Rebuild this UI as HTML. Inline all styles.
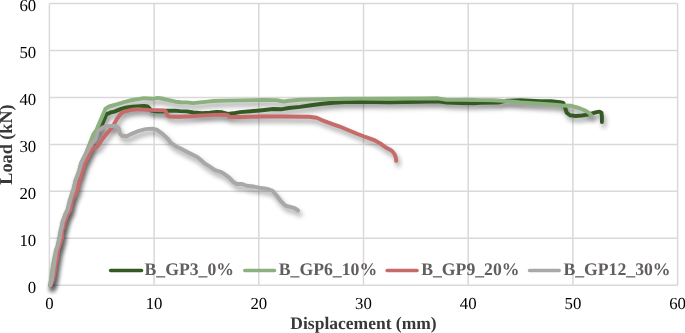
<!DOCTYPE html>
<html><head><meta charset="utf-8"><style>
html,body{margin:0;padding:0;background:#fff;}
svg{display:block;}
text{opacity:0.999;font-family:"Liberation Serif",serif;text-rendering:geometricPrecision;}
.tk{font-size:16.8px;fill:#000;}
.lg{font-size:17.7px;font-weight:bold;fill:#635e5e;}
.at{font-size:17.5px;font-weight:bold;fill:#383838;}
</style></head><body>
<svg width="685" height="333" viewBox="0 0 685 333">
<defs>
<filter id="bl" x="-10%" y="-10%" width="130%" height="140%"><feGaussianBlur stdDeviation="2.5"/></filter>
</defs>
<rect width="685" height="333" fill="#fff"/>
<g stroke="#d9d9d9" stroke-width="1.5" fill="none">
<line x1="49.40" y1="3.5" x2="49.40" y2="285.3"/><line x1="154.10" y1="3.5" x2="154.10" y2="285.3"/><line x1="258.80" y1="3.5" x2="258.80" y2="285.3"/><line x1="363.50" y1="3.5" x2="363.50" y2="285.3"/><line x1="468.20" y1="3.5" x2="468.20" y2="285.3"/><line x1="572.90" y1="3.5" x2="572.90" y2="285.3"/><line x1="677.60" y1="3.5" x2="677.60" y2="285.3"/><line x1="49.4" y1="285.30" x2="677.6" y2="285.30"/><line x1="49.4" y1="238.33" x2="677.6" y2="238.33"/><line x1="49.4" y1="191.37" x2="677.6" y2="191.37"/><line x1="49.4" y1="144.40" x2="677.6" y2="144.40"/><line x1="49.4" y1="97.43" x2="677.6" y2="97.43"/><line x1="49.4" y1="50.47" x2="677.6" y2="50.47"/><line x1="49.4" y1="3.50" x2="677.6" y2="3.50"/>
</g>
<g class="tk"><text x="36.2" y="293.20" text-anchor="end">0</text><text x="36.2" y="246.23" text-anchor="end">10</text><text x="36.2" y="199.27" text-anchor="end">20</text><text x="36.2" y="152.30" text-anchor="end">30</text><text x="36.2" y="105.33" text-anchor="end">40</text><text x="36.2" y="58.37" text-anchor="end">50</text><text x="36.2" y="11.40" text-anchor="end">60</text><text x="49.40" y="309.2" text-anchor="middle">0</text><text x="154.10" y="309.2" text-anchor="middle">10</text><text x="258.80" y="309.2" text-anchor="middle">20</text><text x="363.50" y="309.2" text-anchor="middle">30</text><text x="468.20" y="309.2" text-anchor="middle">40</text><text x="572.90" y="309.2" text-anchor="middle">50</text><text x="677.60" y="309.2" text-anchor="middle">60</text></g>
<g fill="none" stroke="#000" stroke-width="3.9" stroke-linejoin="round" stroke-linecap="round" transform="translate(2.0,4.0)">
<polyline points="50.4,285.3 52.2,280.0 53.2,275.0 53.8,270.0 54.5,265.0 55.3,260.0 56.9,250.0 58.1,247.4 60.4,237.5 61.6,230.0 62.4,227.5 63.2,222.5 64.5,219.0 65.8,215.0 68.4,210.0 70.8,200.0 72.7,194.0 74.2,190.0 76.3,180.0 78.7,174.0 80.0,170.0 82.6,163.0 86.3,155.5 89.9,148.0 93.5,140.0 96.5,134.0 100.0,129.2 103.5,121.0 106.7,113.6 108.6,113.6 110.0,112.7 114.5,111.6 117.5,110.4 121.3,108.9 125.0,107.8 132.5,106.7 140.0,106.2 144.0,105.9 147.6,106.5 149.4,108.1 151.2,110.6 157.5,111.5 163.8,111.5 166.5,110.7 175.0,110.6 180.0,111.1 186.7,111.4 193.3,112.5 202.2,113.3 210.0,112.8 216.7,111.9 222.2,112.3 227.8,113.9 233.3,113.3 240.0,112.1 251.1,111.2 262.2,110.2 273.3,109.0 281.1,109.3 288.9,108.0 300.0,106.9 311.1,105.2 322.2,103.8 333.3,102.7 344.4,102.1 360.0,101.9 389.7,102.4 420.0,101.7 438.0,101.2 447.0,102.6 460.5,103.0 474.0,103.4 480.0,102.8 498.0,102.5 507.0,100.7 520.5,100.2 540.0,101.1 551.1,101.3 560.0,102.1 563.3,102.9 565.0,107.4 566.7,112.7 570.0,115.2 575.6,116.0 582.2,115.5 588.9,114.4 595.6,112.4 599.4,111.6 601.5,112.8 601.9,117.0 601.9,122.0" filter="url(#bl)" opacity="0.38"/>
<polyline points="50.0,285.3 51.0,280.0 51.8,275.0 52.3,270.0 53.0,265.0 54.0,260.0 56.0,250.0 57.2,247.4 59.5,237.5 60.7,230.0 61.5,227.5 62.3,222.5 63.6,219.0 64.9,215.0 67.5,210.0 69.9,200.0 71.8,194.0 73.3,190.0 75.7,180.0 78.1,174.0 79.4,170.0 81.0,163.0 86.0,153.0 89.5,144.5 93.4,134.2 96.5,130.0 98.0,126.3 100.9,119.5 103.8,112.7 105.5,108.7 109.2,106.5 117.5,104.2 125.0,101.9 132.5,100.0 139.5,98.8 144.0,98.1 148.5,98.5 153.0,98.8 157.5,97.9 162.0,98.5 166.5,99.7 171.0,100.6 175.6,101.7 181.0,102.2 187.0,102.4 193.0,103.1 200.0,102.4 207.8,101.6 213.3,101.0 224.4,100.6 240.0,100.4 262.2,100.0 276.5,100.1 280.5,101.0 284.0,101.5 289.0,100.7 300.0,99.7 322.2,99.1 344.4,98.8 360.0,98.6 420.0,98.5 438.0,98.3 447.0,99.9 456.0,99.9 467.7,99.7 480.0,100.1 493.5,100.2 507.0,101.1 520.5,102.5 540.0,103.8 551.1,104.4 562.2,105.5 571.1,105.8 578.9,108.0 584.4,110.2 588.9,112.9 591.5,115.6" filter="url(#bl)" opacity="0.38"/>
<polyline points="50.6,285.3 53.0,280.0 54.0,275.0 55.0,270.0 55.6,265.0 56.8,260.0 58.3,250.0 58.8,247.4 62.2,237.5 62.1,230.0 63.6,227.5 64.7,222.5 67.3,215.0 70.3,210.0 72.1,200.0 75.1,195.0 77.4,190.0 79.6,180.0 82.7,170.0 84.9,163.0 87.8,158.0 89.8,153.5 91.9,148.8 93.0,147.5 94.8,147.7 96.6,147.1 98.4,145.2 100.2,142.4 101.5,140.5 104.0,137.0 107.0,133.4 110.0,129.8 111.5,128.2 114.3,123.4 117.2,118.6 120.1,114.5 123.0,112.0 127.3,110.8 132.5,109.7 137.7,109.1 142.2,109.5 148.5,109.9 157.5,110.1 164.7,110.4 166.1,112.2 167.4,115.3 169.2,116.4 175.0,116.7 180.0,116.8 191.1,116.3 202.2,115.4 213.3,114.9 224.4,114.6 227.8,115.2 229.4,116.8 240.0,117.0 262.2,116.5 284.4,116.5 300.0,116.8 308.9,116.7 316.7,117.8 322.2,120.2 327.8,122.4 333.3,124.3 339.0,126.3 348.0,130.0 357.0,133.8 366.0,137.2 373.6,139.8 380.2,143.4 385.5,147.3 389.7,149.4 392.6,151.5 394.7,154.5 395.8,157.6 396.2,160.9" filter="url(#bl)" opacity="0.38"/>
<polyline points="50.2,285.3 51.8,280.0 52.7,275.0 53.3,270.0 54.0,265.0 54.8,260.0 56.3,250.0 57.5,247.4 59.8,237.5 61.0,230.0 61.8,227.5 62.6,222.5 63.9,219.0 65.2,215.0 67.8,210.0 70.2,200.0 72.1,194.0 73.6,190.0 75.7,180.0 78.1,174.0 79.4,170.0 81.5,163.0 85.2,155.5 89.1,148.0 92.5,143.0 95.6,139.0 98.0,131.1 102.8,127.4 107.6,126.1 112.4,125.8 116.5,126.2 118.9,128.6 120.0,133.6 122.2,135.8 126.7,136.3 132.2,133.6 138.9,130.8 145.6,129.1 152.2,128.6 156.7,129.7 162.2,133.6 167.8,138.8 170.6,142.5 176.1,146.4 181.7,149.1 187.2,151.9 192.8,154.7 197.2,156.9 200.6,159.7 205.0,163.6 209.4,166.4 215.0,170.1 220.6,171.8 224.4,174.0 228.9,177.4 233.3,181.8 236.7,184.0 242.2,184.0 246.7,185.7 253.3,186.5 258.9,187.6 264.4,188.5 267.8,189.0 272.5,190.8 276.8,195.8 280.6,200.8 285.4,205.6 290.2,206.8 293.8,207.8 297.5,210.0 298.0,210.6" filter="url(#bl)" opacity="0.38"/>
</g>
<g fill="none" stroke-width="3.9" stroke-linejoin="round" stroke-linecap="round">
<polyline points="50.4,285.3 52.2,280.0 53.2,275.0 53.8,270.0 54.5,265.0 55.3,260.0 56.9,250.0 58.1,247.4 60.4,237.5 61.6,230.0 62.4,227.5 63.2,222.5 64.5,219.0 65.8,215.0 68.4,210.0 70.8,200.0 72.7,194.0 74.2,190.0 76.3,180.0 78.7,174.0 80.0,170.0 82.6,163.0 86.3,155.5 89.9,148.0 93.5,140.0 96.5,134.0 100.0,129.2 103.5,121.0 106.7,113.6 108.6,113.6 110.0,112.7 114.5,111.6 117.5,110.4 121.3,108.9 125.0,107.8 132.5,106.7 140.0,106.2 144.0,105.9 147.6,106.5 149.4,108.1 151.2,110.6 157.5,111.5 163.8,111.5 166.5,110.7 175.0,110.6 180.0,111.1 186.7,111.4 193.3,112.5 202.2,113.3 210.0,112.8 216.7,111.9 222.2,112.3 227.8,113.9 233.3,113.3 240.0,112.1 251.1,111.2 262.2,110.2 273.3,109.0 281.1,109.3 288.9,108.0 300.0,106.9 311.1,105.2 322.2,103.8 333.3,102.7 344.4,102.1 360.0,101.9 389.7,102.4 420.0,101.7 438.0,101.2 447.0,102.6 460.5,103.0 474.0,103.4 480.0,102.8 498.0,102.5 507.0,100.7 520.5,100.2 540.0,101.1 551.1,101.3 560.0,102.1 563.3,102.9 565.0,107.4 566.7,112.7 570.0,115.2 575.6,116.0 582.2,115.5 588.9,114.4 595.6,112.4 599.4,111.6 601.5,112.8 601.9,117.0 601.9,122.0" stroke="#335a22"/>
<polyline points="50.0,285.3 51.0,280.0 51.8,275.0 52.3,270.0 53.0,265.0 54.0,260.0 56.0,250.0 57.2,247.4 59.5,237.5 60.7,230.0 61.5,227.5 62.3,222.5 63.6,219.0 64.9,215.0 67.5,210.0 69.9,200.0 71.8,194.0 73.3,190.0 75.7,180.0 78.1,174.0 79.4,170.0 81.0,163.0 86.0,153.0 89.5,144.5 93.4,134.2 96.5,130.0 98.0,126.3 100.9,119.5 103.8,112.7 105.5,108.7 109.2,106.5 117.5,104.2 125.0,101.9 132.5,100.0 139.5,98.8 144.0,98.1 148.5,98.5 153.0,98.8 157.5,97.9 162.0,98.5 166.5,99.7 171.0,100.6 175.6,101.7 181.0,102.2 187.0,102.4 193.0,103.1 200.0,102.4 207.8,101.6 213.3,101.0 224.4,100.6 240.0,100.4 262.2,100.0 276.5,100.1 280.5,101.0 284.0,101.5 289.0,100.7 300.0,99.7 322.2,99.1 344.4,98.8 360.0,98.6 420.0,98.5 438.0,98.3 447.0,99.9 456.0,99.9 467.7,99.7 480.0,100.1 493.5,100.2 507.0,101.1 520.5,102.5 540.0,103.8 551.1,104.4 562.2,105.5 571.1,105.8 578.9,108.0 584.4,110.2 588.9,112.9 591.5,115.6" stroke="#8cb07e"/>
<polyline points="50.6,285.3 53.0,280.0 54.0,275.0 55.0,270.0 55.6,265.0 56.8,260.0 58.3,250.0 58.8,247.4 62.2,237.5 62.1,230.0 63.6,227.5 64.7,222.5 67.3,215.0 70.3,210.0 72.1,200.0 75.1,195.0 77.4,190.0 79.6,180.0 82.7,170.0 84.9,163.0 87.8,158.0 89.8,153.5 91.9,148.8 93.0,147.5 94.8,147.7 96.6,147.1 98.4,145.2 100.2,142.4 101.5,140.5 104.0,137.0 107.0,133.4 110.0,129.8 111.5,128.2 114.3,123.4 117.2,118.6 120.1,114.5 123.0,112.0 127.3,110.8 132.5,109.7 137.7,109.1 142.2,109.5 148.5,109.9 157.5,110.1 164.7,110.4 166.1,112.2 167.4,115.3 169.2,116.4 175.0,116.7 180.0,116.8 191.1,116.3 202.2,115.4 213.3,114.9 224.4,114.6 227.8,115.2 229.4,116.8 240.0,117.0 262.2,116.5 284.4,116.5 300.0,116.8 308.9,116.7 316.7,117.8 322.2,120.2 327.8,122.4 333.3,124.3 339.0,126.3 348.0,130.0 357.0,133.8 366.0,137.2 373.6,139.8 380.2,143.4 385.5,147.3 389.7,149.4 392.6,151.5 394.7,154.5 395.8,157.6 396.2,160.9" stroke="#c66a6a"/>
<polyline points="50.2,285.3 51.8,280.0 52.7,275.0 53.3,270.0 54.0,265.0 54.8,260.0 56.3,250.0 57.5,247.4 59.8,237.5 61.0,230.0 61.8,227.5 62.6,222.5 63.9,219.0 65.2,215.0 67.8,210.0 70.2,200.0 72.1,194.0 73.6,190.0 75.7,180.0 78.1,174.0 79.4,170.0 81.5,163.0 85.2,155.5 89.1,148.0 92.5,143.0 95.6,139.0 98.0,131.1 102.8,127.4 107.6,126.1 112.4,125.8 116.5,126.2 118.9,128.6 120.0,133.6 122.2,135.8 126.7,136.3 132.2,133.6 138.9,130.8 145.6,129.1 152.2,128.6 156.7,129.7 162.2,133.6 167.8,138.8 170.6,142.5 176.1,146.4 181.7,149.1 187.2,151.9 192.8,154.7 197.2,156.9 200.6,159.7 205.0,163.6 209.4,166.4 215.0,170.1 220.6,171.8 224.4,174.0 228.9,177.4 233.3,181.8 236.7,184.0 242.2,184.0 246.7,185.7 253.3,186.5 258.9,187.6 264.4,188.5 267.8,189.0 272.5,190.8 276.8,195.8 280.6,200.8 285.4,205.6 290.2,206.8 293.8,207.8 297.5,210.0 298.0,210.6" stroke="#aaa8a6"/>
</g>
<line x1="110.6" y1="270.5" x2="141.6" y2="270.5" stroke="#335a22" stroke-width="3.4" stroke-linecap="round"/><text x="144.5" y="274.6" class="lg">B_GP3_0%</text><line x1="244.7" y1="270.5" x2="274.6" y2="270.5" stroke="#8cb07e" stroke-width="3.4" stroke-linecap="round"/><text x="278.8" y="274.6" class="lg">B_GP6_10%</text><line x1="387.1" y1="270.5" x2="417.1" y2="270.5" stroke="#c66a6a" stroke-width="3.4" stroke-linecap="round"/><text x="421.2" y="274.6" class="lg">B_GP9_20%</text><line x1="529.5" y1="270.5" x2="559.2" y2="270.5" stroke="#aaa8a6" stroke-width="3.4" stroke-linecap="round"/><text x="563.4" y="274.6" class="lg">B_GP12_30%</text>
<text class="at" x="363.5" y="329.2" text-anchor="middle">Displacement (mm)</text>
<text class="at" style="font-size:18.2px" transform="translate(12,144.5) rotate(-90)" text-anchor="middle">Load (kN)</text>
</svg>
</body></html>
